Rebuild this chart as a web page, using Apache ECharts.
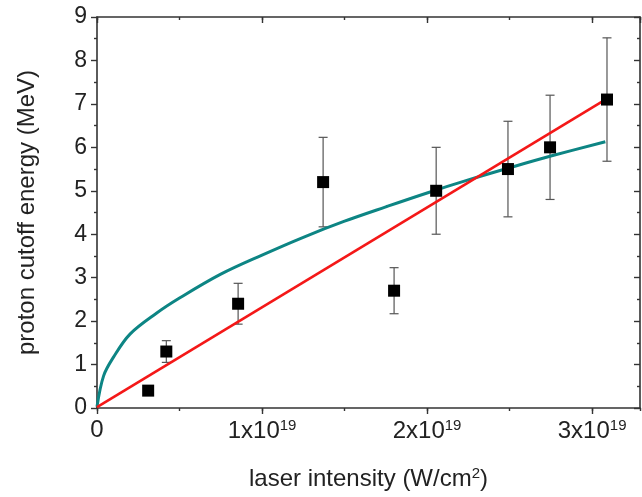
<!DOCTYPE html>
<html>
<head>
<meta charset="utf-8">
<script src="https://cdn.jsdelivr.net/npm/echarts@6/dist/echarts.min.js"></script>
<style>html,body{margin:0;padding:0;background:#fff}#c{width:642px;height:497px}</style>
</head>
<body>
<div id="c"></div>
<script>
// ---- data (x in W/cm^2, y in MeV) ----
var pointX = [0.31e19, 0.42e19, 0.855e19, 1.37e19, 1.8e19, 2.055e19, 2.49e19, 2.745e19, 3.09e19];
var pointY = [0.4, 1.3, 2.4, 5.2, 2.7, 5.0, 5.5, 6.0, 7.1];
var pointErr = [0.1, 0.25, 0.47, 1.03, 0.53, 1.0, 1.1, 1.2, 1.42];
var linearX = [0, 3.08e19];
var linearY = [0.02, 7.1];
var fitX = [0, 0.04e19, 0.1e19, 0.2e19, 0.36e19, 0.5e19, 0.75e19, 1.0e19, 1.25e19, 1.5e19, 1.75e19, 2.0e19, 2.25e19, 2.5e19, 2.75e19, 3.08e19];
var fitY = [0.03, 0.74, 1.17, 1.70, 2.18, 2.53, 3.08, 3.52, 3.93, 4.30, 4.63, 4.95, 5.25, 5.53, 5.80, 6.13];
var xTickMantissa = [0, 1, 2, 3];
var xExponent = 19;
var yTicks = [0, 1, 2, 3, 4, 5, 6, 7, 8, 9];

var FONT = 'Liberation Sans, Arial, sans-serif';
var AX = '#333';

function zip(a, b) { return a.map(function (v, i) { return [v, b[i]]; }); }

var chart = echarts.init(document.getElementById('c'), null, {renderer: 'canvas'});
var xMin = 0, xMax = 3.29e19;

function xAxisCfg(pos, interval, inside, len, labels, line) {
  return {
    type: 'value', position: pos, min: xMin, max: xMax, interval: interval,
    axisLine: {show: line, onZero: false, lineStyle: {color: AX, width: 1.6}},
    axisTick: {show: true, inside: inside, length: len, lineStyle: {color: AX, width: 1.4}},
    splitLine: {show: false},
    axisLabel: labels ? {
      show: true, margin: 10, showMaxLabel: false, fontFamily: FONT, fontSize: 24, color: '#222',
      formatter: function (v) {
        var m = Math.round(v / Math.pow(10, xExponent));
        if (xTickMantissa.indexOf(m) < 0) return '';
        if (m === 0) return '{a|0}';
        return '{a|' + m + 'x10}{s|' + xExponent + '}';
      },
      rich: {
        a: {fontFamily: FONT, fontSize: 24, color: '#222'},
        s: {fontFamily: FONT, fontSize: 15, color: '#222', padding: [0, 0, 12, 0]}
      }
    } : {show: false}
  };
}

var option = {
  animation: false,
  backgroundColor: '#fff',
  grid: {left: 97, top: 17, width: 543, height: 391, containLabel: false},
  xAxis: [
    Object.assign(xAxisCfg('bottom', 1e19, false, 6, true, true), {
      name: '{a|laser intensity (W/cm}{s|2}{a|)}',
      nameLocation: 'middle', nameGap: 58,
      nameTextStyle: {
        rich: {
          a: {fontFamily: FONT, fontSize: 24, color: '#222'},
          s: {fontFamily: FONT, fontSize: 15, color: '#222', padding: [0, 0, 12, 0]}
        }
      }
    }),
    xAxisCfg('top', 1e19, true, 6, false, true),
    xAxisCfg('bottom', 0.5e19, false, 3, false, false),
    xAxisCfg('top', 0.5e19, true, 3, false, false)
  ],
  yAxis: [
    {
      type: 'value', position: 'left', min: yTicks[0], max: yTicks[yTicks.length - 1], interval: 1,
      name: 'proton cutoff energy (MeV)', nameLocation: 'middle', nameGap: 58,
      nameTextStyle: {fontFamily: FONT, fontSize: 24, color: '#222'},
      axisLine: {show: true, onZero: false, lineStyle: {color: AX, width: 1.6}},
      axisTick: {show: true, inside: false, length: 6, lineStyle: {color: AX, width: 1.4}},
      minorTick: {show: true, splitNumber: 2, length: 3, lineStyle: {color: AX, width: 1.4}},
      splitLine: {show: false}, minorSplitLine: {show: false},
      axisLabel: {show: true, margin: 10, fontFamily: FONT, fontSize: 23, color: '#222'}
    },
    {
      type: 'value', position: 'right', min: yTicks[0], max: yTicks[yTicks.length - 1], interval: 1,
      axisLine: {show: true, onZero: false, lineStyle: {color: AX, width: 1.6}},
      axisTick: {show: true, inside: true, length: 6, lineStyle: {color: AX, width: 1.4}},
      minorTick: {show: true, splitNumber: 2, length: 3, lineStyle: {color: AX, width: 1.4}},
      splitLine: {show: false}, minorSplitLine: {show: false},
      axisLabel: {show: false}
    }
  ],
  series: [
    {
      type: 'custom', xAxisIndex: 0, yAxisIndex: 0, z: 2,
      data: pointX.map(function (x, i) { return [x, pointY[i] - pointErr[i], pointY[i] + pointErr[i]]; }),
      encode: {x: 0, y: [1, 2]},
      renderItem: function (params, api) {
        var x = api.value(0);
        var lo = api.coord([x, api.value(1)]);
        var hi = api.coord([x, api.value(2)]);
        var w = 4.5;
        var st = {stroke: '#555', lineWidth: 1.2};
        return {type: 'group', children: [
          {type: 'line', shape: {x1: lo[0], y1: lo[1], x2: hi[0], y2: hi[1]}, style: st},
          {type: 'line', shape: {x1: lo[0] - w, y1: lo[1], x2: lo[0] + w, y2: lo[1]}, style: st},
          {type: 'line', shape: {x1: hi[0] - w, y1: hi[1], x2: hi[0] + w, y2: hi[1]}, style: st}
        ]};
      }
    },
    {
      type: 'line', xAxisIndex: 0, yAxisIndex: 0, z: 3,
      data: zip(fitX, fitY), showSymbol: false, smooth: 0.35,
      lineStyle: {color: '#0d8584', width: 3}
    },
    {
      type: 'line', xAxisIndex: 0, yAxisIndex: 0, z: 4,
      data: zip(linearX, linearY), showSymbol: false,
      lineStyle: {color: '#f41818', width: 2.6}
    },
    {
      type: 'scatter', xAxisIndex: 0, yAxisIndex: 0, z: 5,
      data: zip(pointX, pointY), symbol: 'rect', symbolSize: 12,
      itemStyle: {color: '#000', opacity: 1}
    }
  ]
};
chart.setOption(option);
</script>
</body>
</html>
